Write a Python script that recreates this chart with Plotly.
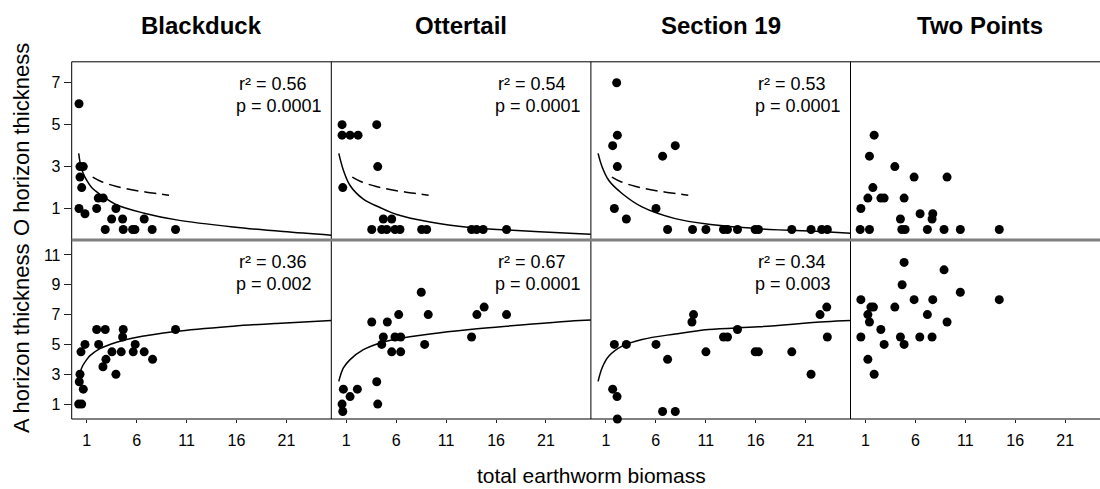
import plotly.graph_objects as go

# ---------------- data ----------------
sites = ["Blackduck", "Ottertail", "Section 19", "Two Points"]
x_ticks = [1, 6, 11, 16, 21]
o_ticks = [1, 3, 5, 7]
a_ticks = [1, 3, 5, 7, 9, 11]

# O horizon thickness (top row)
bd_o_x = [0.23, 0.33, 0.66, 0.33, 0.5, 0.23, 0.83, 2.0, 2.16, 2.66, 3.93, 3.5, 4.6, 6.76, 2.86, 4.66, 5.6, 5.83, 7.56, 9.9]
bd_o_y = [6, 3, 3, 2.5, 2, 1, 0.75, 1, 1.5, 1.5, 1, 0.5, 0.5, 0.5, 0, 0, 0, 0, 0, 0]
ot_o_x = [0.58, 0.58, 1.38, 2.18, 4.05, 4.15, 0.65, 4.71, 5.55, 3.55, 4.55, 5.05, 5.88, 6.38, 8.55, 9.05, 13.55, 14.05, 14.71, 17.05]
ot_o_y = [5, 4.5, 4.5, 4.5, 5, 3, 2, 0.5, 0.5, 0, 0, 0, 0, 0, 0, 0, 0, 0, 0, 0]
s19_o_x = [2.08, 2.15, 1.68, 2.15, 6.68, 7.95, 1.85, 3.05, 6.02, 7.18, 9.68, 11.02, 12.78, 13.18, 14.18, 15.95, 16.28, 19.62, 21.55, 22.62, 23.18]
s19_o_y = [7, 4.5, 4, 3, 3.5, 4, 1, 0.5, 1, 0, 0, 0, 0, 0, 0, 0, 0, 0, 0, 0, 0]
tp_o_x = [1.87, 1.4, 3.94, 5.87, 9.17, 1.74, 1.24, 2.54, 2.87, 4.87, 0.54, 6.47, 7.74, 7.67, 4.5, 0.47, 1.4, 4.64, 4.97, 7.2, 8.87, 10.5, 14.4]
tp_o_y = [4.5, 3.5, 3, 2.5, 2.5, 2, 1.5, 1.5, 1.5, 1.5, 1, 0.75, 0.75, 0.5, 0.5, 0, 0, 0, 0, 0, 0, 0, 0]

# A horizon thickness (bottom row)
bd_a_x = [0.33, 0.26, 0.66, 0.2, 0.5, 0.43, 0.83, 2.0, 2.86, 2.2, 2.63, 2.93, 3.53, 3.93, 4.46, 4.66, 4.6, 5.66, 5.86, 6.76, 7.6, 9.9]
bd_a_y = [3, 2.5, 2, 1, 1, 4.5, 5, 6, 6, 5, 3.5, 4, 4.5, 3, 4.5, 6, 5.5, 4.5, 5, 4.5, 4, 6]
ot_a_x = [0.58, 0.65, 0.71, 1.38, 2.11, 4.05, 4.15, 3.55, 5.11, 6.25, 4.71, 4.55, 5.88, 6.45, 5.55, 6.45, 8.51, 9.21, 8.85, 13.55, 14.08, 14.81, 17.05]
ot_a_y = [1, 0.5, 2, 1.5, 2, 2.5, 1, 6.5, 6.5, 7, 5.5, 5, 5.5, 5.5, 4.5, 4.5, 8.5, 7, 5, 5.5, 7, 7.5, 7]
s19_a_x = [1.85, 3.05, 6.02, 7.18, 1.68, 2.12, 2.15, 6.68, 7.95, 9.78, 9.62, 11.02, 12.78, 13.18, 14.18, 15.95, 16.28, 19.62, 21.55, 22.45, 23.12, 23.18]
s19_a_y = [5, 5, 5, 4, 2, 1.5, 0, 0.5, 0.5, 7, 6.5, 4.5, 5.5, 5.5, 6, 4.5, 4.5, 4.5, 3, 7, 7.5, 5.5]
tp_a_x = [4.87, 8.87, 4.67, 10.5, 0.54, 5.87, 7.74, 14.4, 1.54, 1.8, 3.94, 1.24, 7.2, 1.4, 9.17, 2.54, 0.54, 4.5, 6.44, 7.67, 2.87, 4.87, 1.24, 1.87]
tp_a_y = [10.5, 10, 9, 8.5, 8, 8, 8, 8, 7.5, 7.5, 7.5, 7, 7, 6.5, 6.5, 6, 5.5, 5.5, 5.5, 5.5, 5, 5, 4, 3]

# fitted curves
bd_o_fit_x = [0.2, 0.4, 0.66, 1.0, 1.5, 2.33, 4.0, 6.76, 10.0, 15.66, 20.66, 25.5]
bd_o_fit_y = [3.63, 3.05, 2.67, 2.35, 2.0, 1.68, 1.18, 0.78, 0.46, 0.12, -0.1, -0.27]
ot_o_fit_x = [0.25, 0.71, 1.38, 2.71, 4.38, 6.05, 9.38, 13.38, 17.05, 24.38, 25.5]
ot_o_fit_y = [3.63, 2.83, 2.1, 1.45, 1.05, 0.72, 0.36, 0.1, -0.02, -0.2, -0.22]
s19_o_fit_x = [0.22, 0.62, 1.28, 2.62, 4.62, 7.95, 11.28, 16.28, 22.95, 25.5]
s19_o_fit_y = [3.63, 2.99, 2.35, 1.72, 1.08, 0.52, 0.25, 0.04, -0.11, -0.18]
ref_dash_x = [1.6, 2.5, 4.0, 5.5, 7.0, 8.5, 9.25]
ref_dash_y = [2.5, 2.28, 2.05, 1.9, 1.78, 1.69, 1.63]

bd_a_fit_x = [0.4, 0.6, 1.0, 1.33, 2.33, 4.0, 5.66, 9.9, 15.66, 20.0, 25.5]
bd_a_fit_y = [3.24, 3.57, 3.98, 4.25, 4.72, 5.15, 5.43, 5.87, 6.22, 6.41, 6.6]
ot_a_fit_x = [0.25, 0.71, 1.38, 2.71, 4.38, 6.05, 9.38, 13.38, 17.05, 24.38, 25.5]
ot_a_fit_y = [2.52, 3.42, 3.98, 4.65, 5.1, 5.37, 5.7, 6.0, 6.22, 6.6, 6.63]
s19_a_fit_x = [0.22, 0.62, 1.28, 2.62, 4.62, 7.95, 11.28, 16.28, 22.95, 25.5]
s19_a_fit_y = [2.52, 3.42, 4.2, 4.88, 5.33, 5.7, 6.0, 6.18, 6.52, 6.6]

o_stats = [("0.56", "0.0001"), ("0.54", "0.0001"), ("0.53", "0.0001"), None]
a_stats = [("0.36", "0.002"), ("0.67", "0.0001"), ("0.34", "0.003"), None]

o_points = [(bd_o_x, bd_o_y), (ot_o_x, ot_o_y), (s19_o_x, s19_o_y), (tp_o_x, tp_o_y)]
a_points = [(bd_a_x, bd_a_y), (ot_a_x, ot_a_y), (s19_a_x, s19_a_y), (tp_a_x, tp_a_y)]
o_fits = [(bd_o_fit_x, bd_o_fit_y), (ot_o_fit_x, ot_o_fit_y), (s19_o_fit_x, s19_o_fit_y), None]
a_fits = [(bd_a_fit_x, bd_a_fit_y), (ot_a_fit_x, ot_a_fit_y), (s19_a_fit_x, s19_a_fit_y), None]
o_dash = [True, True, True, False]

# ---------------- layout geometry (pixels) ----------------
W, H = 1100, 489
FONT = "Liberation Sans, Arial, Helvetica, sans-serif"
PANEL_L = [71.7, 331.3, 590.9, 850.5]
PANEL_W = 259.6
X_MIN, X_MAX = -0.5, 25.5
TOP_T, MID, BOT_B = 61.8, 240.0, 419.0


def px(x):
    return x / W


def py(y):
    return 1 - y / H


fig = go.Figure()
layout = dict(
    width=W, height=H, margin=dict(l=0, r=0, t=0, b=0),
    paper_bgcolor="white", plot_bgcolor="white", showlegend=False,
    font=dict(family=FONT, color="black"),
)

for row in range(2):
    for col in range(4):
        n = row * 4 + col + 1
        sfx = "" if n == 1 else str(n)
        left = PANEL_L[col]
        right = min(left + PANEL_W, W)
        xmax = X_MIN + (right - left) / PANEL_W * (X_MAX - X_MIN)
        if row == 0:
            ydom = [py(MID), py(TOP_T)]
            yr = [-0.5, 8.0]
            yt = o_ticks
        else:
            ydom = [py(BOT_B), py(MID)]
            yr = [0, 12.0]
            yt = a_ticks
        xdict = dict(
            domain=[px(left), px(right)], range=[X_MIN, xmax], anchor="y" + sfx,
            showgrid=False, zeroline=False, showline=False, fixedrange=True,
        )
        if row == 1:
            xdict.update(tickmode="array", tickvals=x_ticks, ticktext=[str(v) for v in x_ticks],
                         ticks="outside", ticklen=3, tickwidth=1, tickcolor="#222",
                         ticklabelstandoff=4,
                         showticklabels=True, tickfont=dict(size=16, family=FONT, color="black"))
        else:
            xdict.update(ticks="", showticklabels=False)
        layout["xaxis" + sfx] = xdict
        ydict = dict(
            domain=ydom, range=yr, anchor="x" + sfx,
            showgrid=False, zeroline=False, showline=False, fixedrange=True,
        )
        if col == 0:
            ydict.update(tickmode="array", tickvals=yt, ticktext=[str(v) for v in yt],
                         ticks="outside", ticklen=7, tickwidth=1, tickcolor="#222",
                         showticklabels=True, tickfont=dict(size=16, family=FONT, color="black"))
        else:
            ydict.update(ticks="", showticklabels=False)
        layout["yaxis" + sfx] = ydict

        pts = o_points[col] if row == 0 else a_points[col]
        fit = o_fits[col] if row == 0 else a_fits[col]
        xa, ya = "x" + sfx, "y" + sfx
        if fit is not None:
            fig.add_trace(go.Scatter(x=fit[0], y=fit[1], mode="lines", xaxis=xa, yaxis=ya,
                                     line=dict(color="black", width=1.5, shape="spline", smoothing=1.0),
                                     hoverinfo="skip"))
        if row == 0 and o_dash[col]:
            fig.add_trace(go.Scatter(x=ref_dash_x, y=ref_dash_y, mode="lines", xaxis=xa, yaxis=ya,
                                     line=dict(color="black", width=1.5, dash="12px,6px", shape="spline"),
                                     hoverinfo="skip"))
        fig.add_trace(go.Scatter(x=pts[0], y=pts[1], mode="markers", xaxis=xa, yaxis=ya,
                                 marker=dict(color="black", size=9, line=dict(width=0)),
                                 cliponaxis=False))

# frame lines
shapes = []
line_blk = dict(color="black", width=1)
shapes.append(dict(type="line", xref="paper", yref="paper", x0=px(PANEL_L[0]), x1=1, y0=py(TOP_T), y1=py(TOP_T), line=line_blk))
shapes.append(dict(type="line", xref="paper", yref="paper", x0=px(PANEL_L[0]), x1=1, y0=py(BOT_B), y1=py(BOT_B), line=line_blk))
for l in PANEL_L:
    shapes.append(dict(type="line", xref="paper", yref="paper", x0=px(l), x1=px(l), y0=py(BOT_B), y1=py(TOP_T), line=line_blk))
shapes.append(dict(type="line", xref="paper", yref="paper", x0=px(PANEL_L[0]), x1=1, y0=py(MID), y1=py(MID),
                   line=dict(color="#808080", width=3)))
layout["shapes"] = shapes

ann = []
for col in range(4):
    cx = PANEL_L[col] + PANEL_W / 2
    ann.append(dict(text="<b>" + sites[col] + "</b>", x=px(cx), y=py(26), xref="paper", yref="paper",
                    showarrow=False, xanchor="center", yanchor="middle", font=dict(size=24, family=FONT)))
    for row, stats in ((0, o_stats[col]), (1, a_stats[col])):
        if stats is None:
            continue
        base = 84 if row == 0 else 262.3
        tx = PANEL_L[col] + 164
        ann.append(dict(text="r\u00b2 = " + stats[0], x=px(tx + 1), y=py(base), xref="paper", yref="paper",
                        showarrow=False, xanchor="left", yanchor="middle", font=dict(size=18, family=FONT)))
        ann.append(dict(text="p = " + stats[1], x=px(tx - 2), y=py(base + 22), xref="paper", yref="paper",
                        showarrow=False, xanchor="left", yanchor="middle", font=dict(size=18, family=FONT)))

ann.append(dict(text="O horizon thickness", x=px(21), y=py(140), xref="paper", yref="paper",
                showarrow=False, textangle=-90, xanchor="center", yanchor="middle", font=dict(size=22, family=FONT)))
ann.append(dict(text="A horizon thickness", x=px(21), y=py(338), xref="paper", yref="paper",
                showarrow=False, textangle=-90, xanchor="center", yanchor="middle", font=dict(size=22, family=FONT)))
ann.append(dict(text="total earthworm biomass", x=px(591), y=py(475), xref="paper", yref="paper",
                showarrow=False, xanchor="center", yanchor="middle", font=dict(size=21, family=FONT)))
layout["annotations"] = ann

fig.update_layout(**layout)
fig.write_html("out.html")
